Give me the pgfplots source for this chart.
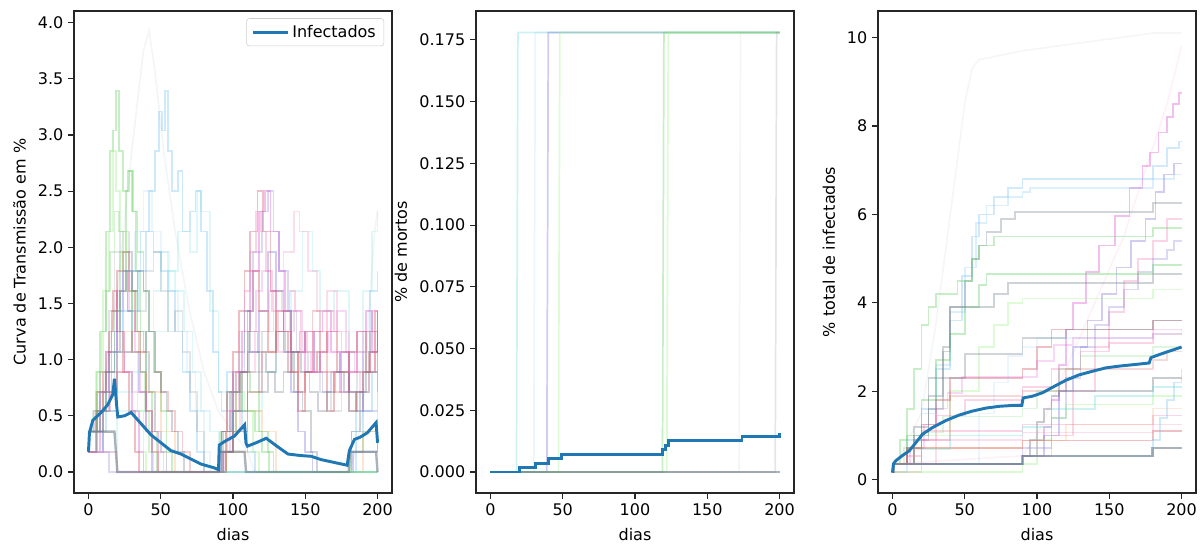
\documentclass[border=0pt]{standalone}
\usepackage{fontspec}
\setmainfont{DejaVu Sans}
\usepackage{pgfplots}
\pgfplotsset{compat=1.18}

\definecolor{mblue}{HTML}{1F77B4}
\definecolor{qg}{rgb}{0.35,0.8,0.35}
\definecolor{qb}{rgb}{0.45,0.75,0.95}
\definecolor{qm}{rgb}{0.85,0.25,0.8}
\definecolor{qr}{rgb}{0.8,0.25,0.3}
\definecolor{qgr}{rgb}{0.45,0.5,0.55}
\definecolor{qp}{rgb}{0.45,0.4,0.85}
\definecolor{qc}{rgb}{0.4,0.85,0.85}
\definecolor{qo}{rgb}{0.95,0.6,0.3}
\definecolor{qpk}{rgb}{0.95,0.5,0.7}
\definecolor{qlg}{rgb}{0.6,0.95,0.5}

\pgfplotsset{
  panel/.style={
    scale only axis, width=238.5pt, height=361.5pt, anchor=south west,
    xmin=-10, xmax=210, xtick={0,50,100,150,200},
    axis line style={black!85, line width=0.8pt},
    tick align=outside, tick pos=left, major tick length=4.5pt,
    tick style={black!85, line width=0.8pt},
    ticklabel style={font=\fontsize{12}{14}\selectfont},
    label style={font=\fontsize{12}{14}\selectfont},
    /pgf/number format/assume math mode=true,
    scaled y ticks=false,
    xlabel={dias},
    xlabel style={at={(axis description cs:0.5,-0.087)}, anchor=center},
  },
  faint/.style={forget plot, line width=1.3pt, opacity=0.33},
  faintc/.style={faint, const plot},
  mainline/.style={mblue, line width=2.2pt},
}

\begin{document}
\begin{tikzpicture}
\useasboundingbox (0,0) rectangle (903pt,410.25pt);

% ---- Panel 1: curva de transmissao ----
\begin{axis}[panel, at={(55.5pt,40.5pt)},
  ymin=-0.187, ymax=4.104, ytick={0,0.5,1,1.5,2,2.5,3,3.5,4},
  yticklabel style={/pgf/number format/.cd, fixed, fixed zerofill, precision=1},
  ylabel={Curva de Transmissão em \%},
  ylabel style={at={(axis description cs:-0.171,0.5)}, anchor=center},
  legend style={at={(axis description cs:0.975,0.985)}, anchor=north east,
    draw=black!20, rounded corners=2pt, font=\fontsize{12}{14}\selectfont,
    inner xsep=4pt, inner ysep=3pt},
  legend image code/.code={\draw[#1] (0pt,0pt) -- (26pt,0pt);},
]
\addplot[faintc, qg] coordinates {(0,0.36)(5,0.71)(8,1.25)(12,2.14)(15,2.86)(17,3.04)(19,3.39)(21,2.86)(24,2.5)(27,2.68)(30,2.32)(33,1.79)(36,1.25)(40,0.71)(44,0.36)(47,0)(90,0)(91,0.36)(96,0.71)(100,0.54)(105,0.89)(110,0.54)(115,0.36)(120,0.18)(125,0)(180,0)(181,0.18)(190,0.36)(200,0.18)};
\addplot[faintc, qb, opacity=0.35] coordinates {(0,0.18)(6,0.36)(12,0.71)(18,1.07)(24,1.43)(30,1.79)(36,2.14)(42,2.5)(46,2.86)(49,3.21)(51,3.04)(53,3.39)(55,2.86)(58,2.5)(62,2.68)(65,2.14)(70,2.32)(74,2.5)(78,2.14)(82,1.61)(86,1.07)(90,0.71)(92,0.54)(96,0.89)(100,0.71)(106,0.36)(110,0.18)(115,0)(180,0)(182,0.36)(190,0.54)(196,0.89)(200,0.71)};
\addplot[faint, qgr, opacity=0.08] coordinates {(0,0.18)(10,0.71)(20,1.61)(30,2.86)(38,3.75)(42,3.93)(46,3.57)(52,2.86)(60,2.14)(70,1.43)(80,0.89)(90,0.54)(100,0.36)(110,0.18)(115,0)(180,0)(185,0.18)(190,0.54)(195,1.61)(198,2.14)(200,2.32)};
\addplot[faintc, qr] coordinates {(0,0.36)(5,0.54)(10,0.89)(14,1.25)(17,1.61)(20,1.25)(24,0.89)(28,0.54)(32,0.18)(35,0)(90,0)(92,0.36)(96,0.71)(100,1.07)(104,1.43)(108,1.79)(112,2.14)(117,2.5)(121,2.14)(126,1.61)(130,1.25)(135,1.43)(140,1.07)(145,0.71)(150,0.89)(155,1.25)(160,0.89)(165,0.54)(170,0.89)(175,1.07)(180,0.71)(185,0.54)(190,0.89)(195,1.25)(200,1.07)};
\addplot[faintc, qm] coordinates {(0,0.18)(8,0.54)(14,0.89)(20,1.25)(25,0.89)(30,0.54)(35,0.18)(38,0)(90,0)(93,0.18)(100,0.71)(106,1.25)(112,1.79)(118,2.32)(122,2.5)(126,2.14)(132,1.79)(136,1.43)(140,1.07)(146,1.25)(150,0.89)(156,1.25)(162,1.43)(168,1.07)(174,0.71)(180,0.89)(186,1.25)(192,1.43)(196,1.07)(200,1.43)};
\addplot[faintc, qgr] coordinates {(0,0.36)(10,0.71)(16,1.07)(22,1.61)(26,1.96)(30,1.61)(34,1.25)(38,1.07)(42,0.71)(46,0.36)(50,0.18)(54,0)(90,0)(92,0.36)(98,0.71)(104,1.07)(108,1.43)(112,1.07)(118,0.71)(124,0.89)(130,1.25)(136,1.07)(142,0.71)(148,0.54)(154,0.18)(158,0)(180,0)(182,0.36)(188,0.71)(194,1.07)(200,1.25)};
\addplot[faintc, qp] coordinates {(0,0.36)(8,0.71)(14,1.07)(20,1.43)(24,1.79)(27,1.43)(30,1.07)(35,0.71)(40,0.36)(44,0)(90,0)(91,0.18)(100,0.54)(110,1.07)(118,1.43)(124,1.96)(130,1.61)(135,1.07)(140,0.71)(145,0.36)(150,0.18)(155,0)(180,0)(183,0.18)(200,0.36)};
\addplot[faintc, qg] coordinates {(0,0.18)(6,0.54)(12,0.89)(18,1.43)(22,1.96)(26,2.5)(28,2.68)(31,2.32)(34,1.96)(38,1.61)(42,1.25)(46,0.89)(50,0.54)(54,0.18)(58,0)(90,0)(92,0.18)(100,0.54)(106,0.89)(112,0.71)(118,0.36)(124,0.18)(128,0)(180,0)(200,0)};
\addplot[faintc, qc, opacity=0.2] coordinates {(0,0.18)(20,0.54)(40,1.25)(55,1.79)(62,2.14)(70,1.96)(75,2.5)(78,2.32)(84,1.43)(90,0.71)(100,0.36)(110,0.54)(120,0.89)(130,1.25)(140,1.61)(148,2.14)(155,1.79)(160,1.43)(170,1.61)(180,1.07)(190,1.61)(196,2.14)(200,2.32)};
\addplot[faintc, qpk, opacity=0.25] coordinates {(0,0.18)(10,0.54)(20,0.89)(30,0.71)(40,0.36)(48,0)(90,0)(95,0.36)(105,0.89)(115,1.25)(125,1.61)(135,1.96)(142,2.32)(146,2.14)(152,1.79)(158,1.43)(165,1.61)(172,1.25)(180,0.89)(188,0.71)(194,1.07)(200,0.89)};
\addplot[faintc, qr] coordinates {(0,0.36)(6,0.71)(12,1.07)(16,1.43)(20,1.79)(24,1.96)(28,1.61)(32,1.25)(36,0.89)(40,0.54)(44,0.18)(48,0)(90,0)(95,0.36)(102,0.89)(110,1.43)(114,1.79)(118,1.43)(124,1.07)(130,1.25)(138,0.89)(145,0.54)(150,0.89)(158,1.07)(165,1.25)(172,0.89)(180,1.07)(186,1.25)(192,0.89)(198,1.43)(200,1.07)};
\addplot[faintc, qo, opacity=0.25] coordinates {(0,0.36)(10,0.71)(20,1.07)(25,1.25)(30,1.07)(40,0.71)(50,0.36)(60,0)(90,0)(95,0.18)(110,0.54)(120,0.36)(130,0)(180,0)(190,0.36)(200,0.54)};
\addplot[faintc, qb] coordinates {(0,0.18)(10,0.54)(20,1.07)(30,1.43)(35,1.79)(40,2.14)(45,1.96)(50,1.79)(55,1.61)(60,1.25)(65,0.89)(70,0.54)(75,0.18)(80,0)(180,0)(185,0.54)(190,1.07)(195,1.61)(200,1.79)};
\addplot[faintc, qp, opacity=0.25] coordinates {(0,0.18)(5,0.36)(10,0.18)(14,0)(90,0)(92,0.36)(100,0.89)(108,1.43)(114,1.96)(120,2.32)(124,2.5)(128,2.14)(132,1.79)(138,1.43)(144,1.07)(150,1.25)(156,0.89)(162,0.71)(168,0.89)(174,1.07)(180,0.71)(190,0.54)(200,0.71)};
\addplot[faintc, qlg, opacity=0.35] coordinates {(0,0.36)(5,0.89)(10,1.61)(14,2.14)(17,2.86)(19,2.5)(22,2.14)(26,1.61)(30,1.07)(34,0.54)(38,0.18)(40,0)(90,0)(95,0.36)(102,0.71)(108,0.54)(114,0.18)(118,0)(180,0)(200,0)};
\addplot[faintc, qgr, opacity=0.2] coordinates {(0,0.36)(8,0.89)(14,1.43)(18,1.96)(22,2.14)(28,1.79)(34,1.43)(40,1.79)(45,1.96)(50,1.61)(55,1.25)(60,1.43)(65,1.07)(70,0.71)(75,0.36)(80,0)(90,0)(93,0.18)(100,0.54)(110,0.89)(120,1.25)(128,1.61)(134,1.43)(140,1.07)(146,0.89)(152,1.07)(160,0.71)(168,0.54)(175,0.89)(180,0.71)(186,0.89)(192,1.25)(200,1.43)};
\addplot[faintc, qm, opacity=0.2] coordinates {(0,0.36)(4,0.54)(8,0.71)(12,1.07)(16,1.25)(20,1.61)(24,1.79)(28,1.43)(32,1.07)(36,0.71)(40,0.54)(44,0.36)(48,0.18)(52,0)(90,0)(94,0.18)(98,0.54)(104,0.89)(110,1.25)(116,1.61)(120,1.79)(126,1.61)(130,1.43)(136,1.25)(142,1.43)(148,1.07)(154,0.89)(160,1.07)(166,1.25)(172,1.43)(178,1.07)(184,0.89)(190,1.25)(196,1.43)(200,1.25)};
\addplot[faintc, qg, opacity=0.25] coordinates {(0,0.36)(3,0.54)(6,0.89)(9,1.25)(12,1.61)(15,1.96)(18,2.32)(21,2.14)(24,1.79)(27,1.43)(30,1.61)(33,1.25)(36,0.89)(39,0.54)(42,0.18)(45,0)(180,0)(200,0)};
\addplot[faintc, qr, opacity=0.25] coordinates {(0,0.18)(5,0.36)(10,0.54)(15,0.71)(20,0.89)(25,1.07)(30,1.25)(35,1.07)(40,1.25)(45,0.89)(50,0.71)(55,0.54)(60,0.36)(65,0.18)(70,0)(90,0)(95,0.18)(100,0.36)(110,0.71)(120,1.07)(130,1.43)(135,1.25)(140,0.89)(145,1.07)(150,1.25)(155,1.43)(160,1.25)(165,0.89)(170,0.71)(175,0.89)(180,0.54)(185,0.71)(190,0.89)(195,1.07)(200,0.89)};
\addplot[faintc, qc, opacity=0.2] coordinates {(0,0.36)(10,0.54)(20,0.71)(30,0.89)(40,1.25)(45,1.61)(50,1.96)(55,1.79)(60,1.61)(66,1.25)(72,0.89)(78,0.54)(84,0.36)(90,0.18)(92,0)(180,0)(200,0)};
\addplot[faintc, qgr] coordinates {(0,0.36)(6,0.54)(12,0.89)(18,1.25)(22,1.61)(26,1.79)(30,1.61)(34,1.79)(38,1.61)(42,1.25)(46,0.89)(50,0.71)(54,0.54)(58,0.36)(62,0.18)(66,0)(90,0)(93,0.36)(99,0.71)(105,0.89)(111,1.25)(117,1.07)(123,0.89)(129,0.71)(135,0.89)(141,1.07)(147,0.89)(153,0.71)(159,0.54)(165,0.71)(171,0.89)(177,0.71)(180,0.54)(186,0.71)(192,0.89)(200,0.71)};
\addplot[faintc, qpk] coordinates {(0,0.18)(20,0)(90,0)(92,0.18)(96,0.54)(100,0.89)(104,1.25)(108,1.61)(112,1.96)(116,2.32)(119,2.14)(123,1.79)(127,1.43)(131,1.07)(135,1.25)(139,1.61)(143,1.43)(147,1.07)(151,1.25)(155,0.89)(160,1.07)(165,1.43)(170,1.25)(175,1.07)(180,0.89)(186,1.07)(192,1.25)(198,0.89)(200,1.07)};
\addplot[faintc, qb, opacity=0.15] coordinates {(0,0.36)(8,0.71)(16,1.25)(24,1.79)(32,2.14)(38,2.5)(44,2.14)(50,1.96)(56,1.61)(62,1.25)(68,0.89)(74,0.54)(80,0.18)(84,0)(180,0)(200,0)};
\addplot[faint, qgr, opacity=0.6, line width=1.8pt] coordinates {(0,0.36)(18,0.36)(20,0)(90,0)(90.5,0.18)(108,0.18)(109,0)(180,0)(181,0.18)(199,0.18)(200,0)};
\addplot[mainline] coordinates {(0,0.18)(0.7,0.35)(3,0.46)(8.8,0.53)(13.4,0.6)(16.8,0.69)(18,0.83)(19.6,0.58)(20.3,0.49)(24.9,0.50)(29.5,0.53)(36.4,0.43)(43.3,0.33)(50.2,0.26)(57,0.19)(64,0.16)(71,0.115)(78,0.07)(87,0.037)(90,0.02)(90.5,0.24)(94,0.27)(101,0.32)(108,0.42)(109,0.255)(110,0.23)(115,0.255)(123,0.30)(131,0.224)(138,0.16)(147,0.146)(154,0.14)(161,0.11)(170,0.085)(179,0.06)(180.5,0.19)(184,0.29)(188,0.31)(193,0.35)(199,0.44)(200,0.26)};
\addlegendentry{Infectados}
\end{axis}

% ---- Panel 2: mortos ----
\begin{axis}[panel, at={(357pt,40.5pt)},
  ymin=-0.0085, ymax=0.1867, ytick={0,0.025,0.05,0.075,0.1,0.125,0.15,0.175},
  yticklabel style={/pgf/number format/.cd, fixed, fixed zerofill, precision=3},
  ylabel={\% de mortos},
  ylabel style={at={(axis description cs:-0.236,0.5)}, anchor=center},
]
\addplot[faint, qc] coordinates {(0,0)(18,0)(19,0.178)(200,0.178)};
\addplot[faint, qb, opacity=0.15] coordinates {(0,0)(30,0)(31,0.178)(200,0.178)};
\addplot[faint, qp] coordinates {(0,0)(39,0)(40,0.178)(200,0.178)};
\addplot[faint, qlg] coordinates {(0,0)(47,0)(48,0.178)(200,0.178)};
\addplot[faint, qg] coordinates {(0,0)(119,0)(120,0.178)(200,0.178)};
\addplot[faint, qlg] coordinates {(0,0)(122,0)(123,0.178)(200,0.178)};
\addplot[faint, qgr, opacity=0.08] coordinates {(0,0)(172,0)(173,0.178)(200,0.178)};
\addplot[faint, qgr, opacity=0.2] coordinates {(0,0)(197,0)(198,0.178)(200,0.178)};
\addplot[faint, qgr, opacity=0.6, line width=2pt] coordinates {(0,0)(200,0)};
\addplot[mainline, const plot] coordinates {(0,0)(19,0)(20,0.0018)(31,0.0036)(40,0.0054)(49,0.0072)(119,0.009)(121,0.0108)(123,0.0126)(174,0.0144)(199,0.0144)(200,0.016)};
\end{axis}

% ---- Panel 3: total de infectados ----
\begin{axis}[panel, at={(658.5pt,40.5pt)},
  ymin=-0.3, ymax=10.6, ytick={0,2,4,6,8,10},
  ylabel={\% total de infectados},
  ylabel style={at={(axis description cs:-0.154,0.5)}, anchor=center},
]
\addplot[faint, qgr, opacity=0.07] coordinates {(0,0.18)(20,1.5)(30,3.5)(40,6.0)(50,8.5)(55,9.3)(60,9.5)(75,9.6)(90,9.7)(180,10.1)(200,10.1)};
\addplot[faint, qpk, opacity=0.1] coordinates {(0,0.36)(90,0.54)(100,1.0)(120,2.5)(140,4.0)(160,5.5)(175,7.0)(190,8.5)(200,9.8)};
\addplot[faintc, qm] coordinates {(0,0.36)(90,0.54)(100,0.9)(105,1.2)(110,1.8)(115,2.6)(120,3.4)(125,4.0)(134,4.7)(143,5.3)(154,5.96)(164,6.6)(173,7.1)(178,7.4)(184,7.85)(190,8.2)(194,8.5)(198,8.75)(200,8.75)};
\addplot[faintc, qb] coordinates {(0,0.36)(10,0.9)(20,1.6)(30,2.5)(40,3.6)(48,4.6)(55,5.5)(60,6.0)(70,6.4)(80,6.6)(90,6.8)(180,7.1)(190,7.5)(198,7.65)(200,7.65)};
\addplot[faintc, qp] coordinates {(0,0.36)(90,0.54)(105,1.0)(115,2.0)(125,3.0)(135,3.6)(145,4.2)(155,4.8)(165,5.4)(175,5.9)(182,6.5)(188,6.9)(195,7.15)(200,7.15)};
\addplot[faintc, qb, opacity=0.25] coordinates {(0,0.18)(10,0.7)(20,1.5)(30,2.6)(40,3.8)(50,4.8)(58,5.8)(65,6.2)(80,6.4)(90,6.5)(95,6.6)(180,6.8)(195,6.9)(200,6.9)};
\addplot[faintc, qgr] coordinates {(0,0.36)(15,1.0)(25,1.9)(35,2.9)(40,3.9)(50,4.5)(55,5.0)(60,5.3)(65,5.6)(75,5.9)(85,6.05)(180,6.25)(200,6.25)};
\addplot[faintc, qg] coordinates {(0,0.36)(5,0.9)(10,1.6)(15,2.5)(20,3.5)(25,3.9)(30,4.2)(45,4.5)(55,5.0)(60,5.3)(70,5.5)(180,5.7)(200,5.7)};
\addplot[faintc, qpk] coordinates {(0,0.36)(90,0.54)(110,1.0)(125,2.0)(140,3.0)(150,3.8)(160,4.5)(170,5.0)(180,5.4)(190,5.9)(200,5.9)};
\addplot[faintc, qp, opacity=0.25] coordinates {(0,0.36)(90,0.71)(110,1.4)(120,2.3)(130,3.0)(140,3.5)(150,3.9)(160,4.3)(170,4.7)(180,5.0)(190,5.2)(195,5.4)(200,5.4)};
\addplot[faintc, qg, opacity=0.35] coordinates {(0,0.36)(10,1.0)(20,1.8)(30,2.7)(40,3.3)(50,3.9)(60,4.4)(65,4.65)(90,4.65)(180,4.85)(200,4.85)};
\addplot[faintc, qgr, opacity=0.35] coordinates {(0,0.36)(15,1.2)(25,2.3)(35,3.0)(40,3.9)(60,3.9)(70,4.2)(80,4.45)(180,4.65)(200,4.65)};
\addplot[faintc, qlg] coordinates {(0,0.36)(20,1.0)(40,2.0)(60,3.0)(70,3.5)(80,4.0)(90,4.1)(180,4.3)(200,4.3)};
\addplot[faintc, qr] coordinates {(0,0.36)(10,0.71)(20,1.25)(30,1.8)(40,2.3)(60,2.3)(90,2.5)(100,3.0)(110,3.4)(180,3.6)(200,3.6)};
\addplot[faintc, qgr] coordinates {(0,0.36)(15,0.9)(25,1.6)(35,2.3)(50,2.85)(90,3.2)(120,3.4)(180,3.6)(200,3.6)};
\addplot[faintc, qpk] coordinates {(0,0.18)(20,0.9)(30,1.45)(50,1.8)(90,2.1)(110,2.5)(130,2.9)(150,3.1)(180,3.3)(200,3.3)};
\addplot[faintc, qr, opacity=0.2] coordinates {(0,0.36)(20,1.1)(40,1.9)(90,2.0)(120,2.5)(180,2.7)(190,2.9)(200,2.9)};
\addplot[faintc, qgr, opacity=0.4] coordinates {(0,0.36)(90,0.54)(95,0.9)(100,1.3)(105,1.6)(110,1.9)(115,2.0)(180,2.3)(200,2.3)};
\addplot[faintc, qlg, opacity=0.35] coordinates {(0,0.18)(90,0.36)(100,0.9)(110,1.4)(120,1.7)(180,1.9)(200,1.9)};
\addplot[faintc, qpk] coordinates {(0,0.36)(10,0.54)(20,0.9)(40,1.1)(90,1.25)(180,1.45)(200,1.45)};
\addplot[faintc, qr] coordinates {(0,0.36)(10,0.71)(90,0.89)(180,1.1)(200,1.1)};
\addplot[faintc, qb] coordinates {(0,0.36)(90,0.54)(180,0.9)(185,1.4)(190,1.8)(195,2.2)(200,2.5)};
\addplot[faintc, qc] coordinates {(0,0.36)(20,0.7)(40,1.0)(90,1.2)(110,1.6)(140,1.9)(180,2.1)(200,2.1)};
\addplot[faintc, qpk, opacity=0.25] coordinates {(0,0.36)(30,0.9)(90,1.07)(180,1.25)(200,1.25)};
\addplot[faintc, qb, opacity=0.15] coordinates {(0,0.36)(60,1.5)(70,2.2)(80,2.8)(90,3.0)(100,3.2)(180,3.3)(200,3.4)};
\addplot[faintc, qm, opacity=0.2] coordinates {(0,0.36)(12,0.71)(22,1.25)(30,1.61)(38,1.96)(48,2.32)(90,2.32)(100,2.68)(112,3.04)(125,3.21)(180,3.4)(200,3.4)};
\addplot[faintc, qg, opacity=0.2] coordinates {(0,0.36)(8,0.71)(20,1.07)(35,1.43)(90,1.61)(100,2.0)(115,2.5)(130,2.8)(180,3.0)(200,3.0)};
\addplot[faintc, qo, opacity=0.2] coordinates {(0,0.36)(15,0.71)(90,0.89)(120,1.25)(180,1.61)(200,1.61)};
\addplot[faintc, qgr, opacity=0.6, line width=1.8pt] coordinates {(0,0.18)(1,0.36)(90,0.54)(180,0.72)(200,0.72)};
\addplot[mainline] coordinates {(0,0.16)(0.7,0.36)(2.3,0.43)(7,0.55)(11.5,0.65)(16,0.83)(20.8,1.03)(27.7,1.18)(37,1.34)(46,1.46)(55,1.55)(64.6,1.62)(73.8,1.66)(83,1.68)(89.5,1.68)(90.4,1.85)(97,1.89)(104,1.97)(110.7,2.09)(120,2.25)(129,2.37)(138,2.45)(147.6,2.53)(157,2.57)(166,2.6)(177.6,2.64)(178.8,2.76)(182,2.8)(189,2.88)(200,3.0)};
\end{axis}
\end{tikzpicture}
\end{document}
